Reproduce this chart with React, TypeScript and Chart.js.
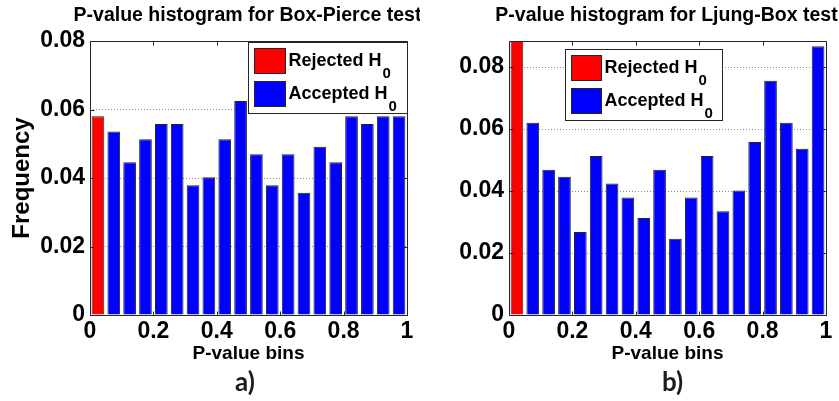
import React, { useEffect, useRef } from 'react';
import { Chart, registerables } from 'chart.js';

Chart.register(...registerables);

// Histogram bins (centres of 0.05-wide p-value bins)
const binCenters = [
  0.025, 0.075, 0.125, 0.175, 0.225, 0.275, 0.325, 0.375, 0.425, 0.475,
  0.525, 0.575, 0.625, 0.675, 0.725, 0.775, 0.825, 0.875, 0.925, 0.975,
];

// Relative frequency of p-values per bin
const boxPierceFreq = [
  0.058, 0.0536, 0.0446, 0.0513, 0.0558, 0.0558, 0.0379, 0.0402, 0.0513, 0.0625,
  0.0469, 0.0379, 0.0469, 0.0357, 0.0491, 0.0446, 0.058, 0.0558, 0.058, 0.058,
];
const ljungBoxFreq = [
  0.0889, 0.062, 0.0469, 0.0446, 0.0268, 0.0513, 0.0424, 0.0379, 0.0313, 0.0469,
  0.0246, 0.0379, 0.0513, 0.0335, 0.0402, 0.0558, 0.0756, 0.062, 0.0536, 0.0867,
];

// Bins below the 0.05 significance level count as rejections
const rejectedBinCount = 1;

const xTicks = [0, 0.2, 0.4, 0.6, 0.8, 1];
const yTicks = [0, 0.02, 0.04, 0.06, 0.08];
const yLimits = [0.08, 0.0884];

const panelTitles = ['P-value histogram for Box-Pierce test', 'P-value histogram for Ljung-Box test'];
const panelCaptions = ['a)', 'b)'];
const legendLabels = ['Rejected H', 'Accepted H'];
const legendSubscript = '0';
const xAxisTitle = 'P-value bins';
const yAxisTitle = 'Frequency';

const FONT = "'Liberation Sans', Arial, Helvetica, sans-serif";
const RED = '#ff0000';
const BLUE = '#0000ff';
const EDGE = '#262626';

// Axes box with inward tick marks on all four sides
const framePlugin = {
  id: 'frame',
  afterDatasetsDraw(chart: any) {
    const { ctx, chartArea: a, scales } = chart;
    const L = Math.round(a.left) + 0.5;
    const R = Math.round(a.right) + 0.5;
    const T = Math.round(a.top) + 0.5;
    const B = Math.round(a.bottom) + 0.5;
    const len = 4;
    ctx.save();
    ctx.strokeStyle = EDGE;
    ctx.lineWidth = 1;
    ctx.beginPath();
    ctx.rect(L, T, R - L, B - T);
    for (const t of scales.x.ticks) {
      const px = Math.round(scales.x.getPixelForValue(t.value)) + 0.5;
      ctx.moveTo(px, B);
      ctx.lineTo(px, B - len);
      ctx.moveTo(px, T);
      ctx.lineTo(px, T + len);
    }
    for (const t of scales.y.ticks) {
      const py = Math.round(scales.y.getPixelForValue(t.value)) + 0.5;
      ctx.moveTo(L, py);
      ctx.lineTo(L + len, py);
      ctx.moveTo(R, py);
      ctx.lineTo(R - len, py);
    }
    ctx.stroke();
    ctx.restore();
  },
};

// Boxed legend with subscripted labels
const boxLegendPlugin = {
  id: 'boxLegend',
  afterDraw(chart: any, _args: any, opts: any) {
    const { ctx, chartArea: a } = chart;
    const bx = Math.round(a.left + opts.left) + 0.5;
    const by = Math.round(a.top + opts.top) + 0.5;
    ctx.save();
    ctx.fillStyle = '#ffffff';
    ctx.fillRect(bx, by, opts.width, opts.height);
    ctx.strokeStyle = EDGE;
    ctx.lineWidth = 1;
    ctx.strokeRect(bx, by, opts.width, opts.height);
    opts.items.forEach((item: any, i: number) => {
      const sy = by + 6 + i * 33;
      ctx.fillStyle = item.color;
      ctx.fillRect(bx + 6, sy, opts.swatchWidth, 25);
      ctx.strokeStyle = EDGE;
      ctx.strokeRect(bx + 6, sy, opts.swatchWidth, 25);
      ctx.fillStyle = '#000000';
      ctx.textBaseline = 'alphabetic';
      ctx.textAlign = 'left';
      ctx.font = `bold 18px ${FONT}`;
      const tx = bx + opts.swatchWidth + 9;
      const base = sy + 17;
      ctx.fillText(item.text, tx, base);
      const w = ctx.measureText(item.text).width;
      ctx.font = `bold 15px ${FONT}`;
      ctx.fillText(item.sub, tx + w + 1, base + 12);
    });
    ctx.restore();
  },
};

// Panel title above the axes and caption below
const panelTextPlugin = {
  id: 'panelText',
  afterDraw(chart: any, _args: any, opts: any) {
    const { ctx, chartArea: a } = chart;
    const cx = (a.left + a.right) / 2;
    ctx.save();
    ctx.textAlign = 'center';
    ctx.textBaseline = 'middle';
    ctx.fillStyle = '#000000';
    ctx.font = `bold 19.5px ${FONT}`;
    ctx.fillText(opts.title, cx - 1, 16);
    ctx.fillStyle = '#1c1c1c';
    ctx.font = `bold 26px Lato, 'Open Sans', sans-serif`;
    ctx.fillText(opts.caption, cx + opts.captionShift, 383);
    ctx.restore();
  },
};

type PanelProps = {
  index: number;
  freq: number[];
  left: number;
  width: number;
  yAxisWidth: number;
  showYTitle: boolean;
  legendPos: { left: number; top: number; width: number; swatchWidth: number };
  captionShift: number;
};

function HistogramPanel(props: PanelProps) {
  const ref = useRef<HTMLCanvasElement | null>(null);

  useEffect(() => {
    if (!ref.current) return;
    const { index, freq } = props;
    const rejected = binCenters.slice(0, rejectedBinCount).map((x, i) => ({ x, y: freq[i] }));
    const accepted = binCenters
      .slice(rejectedBinCount)
      .map((x, i) => ({ x, y: freq[i + rejectedBinCount] }));

    const barStyle = {
      borderColor: EDGE,
      borderWidth: 1,
      borderSkipped: 'start',
      grouped: false,
      barPercentage: 0.8,
      categoryPercentage: 1,
    };

    const chart = new Chart(ref.current, {
      type: 'bar',
      data: {
        datasets: [
          { label: legendLabels[0] + legendSubscript, data: rejected, backgroundColor: RED, ...barStyle } as any,
          { label: legendLabels[1] + legendSubscript, data: accepted, backgroundColor: BLUE, ...barStyle } as any,
        ],
      },
      options: {
        responsive: false,
        animation: false,
        devicePixelRatio: 1,
        layout: { padding: { left: 0, top: 41, right: 13, bottom: 36 } },
        scales: {
          x: {
            type: 'linear',
            min: 0,
            max: 1,
            offset: false,
            afterBuildTicks: (s: any) => {
              s.ticks = xTicks.map((v) => ({ value: v }));
            },
            afterFit: (s: any) => {
              s.height = 50;
            },
            grid: { display: false, drawTicks: false },
            border: { display: false },
            ticks: {
              padding: 3,
              color: '#000',
              maxRotation: 0,
              autoSkip: false,
              font: { family: FONT, size: 23, weight: 'bold' },
              callback: (v: any) => String(v),
            },
            title: {
              display: true,
              text: xAxisTitle,
              color: '#000',
              padding: { top: 0, bottom: 0 },
              font: { family: FONT, size: 19, weight: 'bold' },
            },
          },
          y: {
            type: 'linear',
            min: 0,
            max: yLimits[index],
            afterBuildTicks: (s: any) => {
              s.ticks = yTicks.filter((v) => v <= yLimits[index] + 1e-9).map((v) => ({ value: v }));
            },
            afterFit: (s: any) => {
              s.width = props.yAxisWidth;
            },
            grid: {
              display: true,
              drawTicks: false,
              color: 'rgba(0,0,0,0.45)',
              lineWidth: 1,
            },
            border: { display: false, dash: [1, 2] },
            ticks: {
              padding: 5,
              color: '#000',
              autoSkip: false,
              font: { family: FONT, size: 23, weight: 'bold' },
              callback: (v: any) => String(v),
            },
            title: {
              display: props.showYTitle,
              text: yAxisTitle,
              color: '#000',
              padding: { top: 8, bottom: 0 },
              font: { family: FONT, size: 24, weight: 'bold' },
            },
          },
        },
        plugins: {
          legend: { display: false },
          tooltip: { enabled: false },
          boxLegend: {
            ...props.legendPos,
            height: 71,
            items: [
              { color: RED, text: legendLabels[0], sub: legendSubscript },
              { color: BLUE, text: legendLabels[1], sub: legendSubscript },
            ],
          },
          panelText: {
            title: panelTitles[index],
            caption: panelCaptions[index],
            captionShift: props.captionShift,
          },
        } as any,
      },
      plugins: [framePlugin, boxLegendPlugin, panelTextPlugin],
    });

    return () => chart.destroy();
  }, []);

  return (
    <canvas
      ref={ref}
      width={props.width}
      height={401}
      style={{ position: 'absolute', left: props.left, top: 0, width: props.width, height: 401 }}
    />
  );
}

export default function App() {
  return (
    <div
      style={{
        position: 'fixed',
        left: 0,
        top: 0,
        width: 839,
        height: 401,
        background: '#ffffff',
        overflow: 'hidden',
      }}
    >
      <HistogramPanel
        index={0}
        freq={boxPierceFreq}
        left={0}
        width={420}
        yAxisWidth={90}
        showYTitle={true}
        legendPos={{ left: 158, top: 1, width: 159, swatchWidth: 31 }}
        captionShift={-3.5}
      />
      <HistogramPanel
        index={1}
        freq={ljungBoxFreq}
        left={420}
        width={419}
        yAxisWidth={89}
        showYTitle={false}
        legendPos={{ left: 56, top: 8, width: 157, swatchWidth: 30 }}
        captionShift={5}
      />
    </div>
  );
}
